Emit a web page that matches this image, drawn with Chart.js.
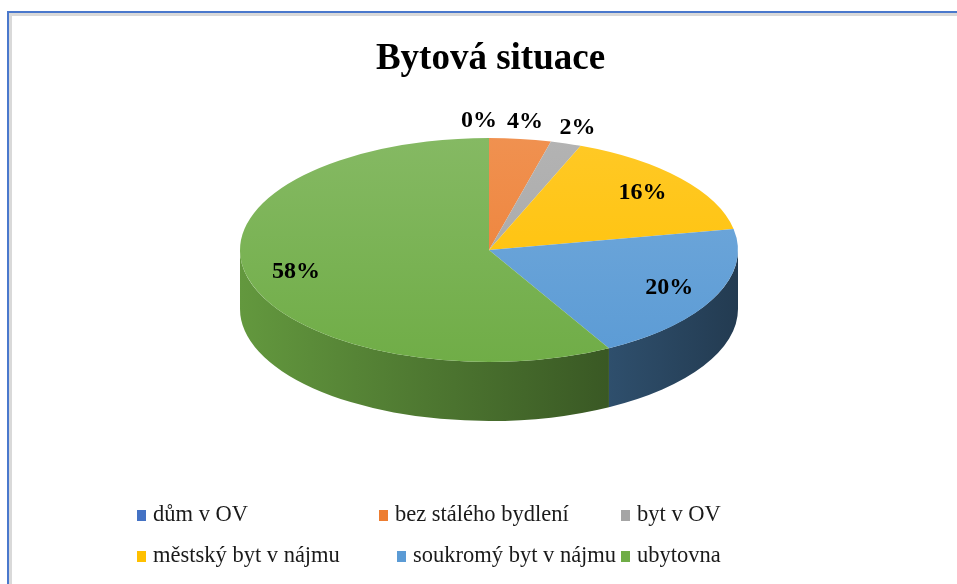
<!DOCTYPE html>
<html>
<head>
<meta charset="utf-8">
<title>Bytová situace</title>
<script src="https://cdn.jsdelivr.net/npm/chart.js@4.4.0/dist/chart.umd.min.js"></script>
<style>
  body { margin: 0; background: #fff; }
  #wrap { position: relative; width: 957px; height: 584px; overflow: hidden; }
  #frame { position: absolute; left: 7px; top: 11px; right: -20px; bottom: -20px;
           border-left: 2px solid #4a78cc; border-top: 2px solid #4a78cc; }
  #frame::after { content: ''; position: absolute; left: 0; top: 0; right: 0; bottom: 0;
                  border-left: 3px solid #d9d9d9; border-top: 3px solid #d9d9d9; }
  canvas { position: absolute; left: 0; top: 0; }
</style>
</head>
<body>
<div id="wrap">
  <div id="frame"></div>
  <canvas id="pieChart" width="957" height="584"></canvas>
</div>
<script>
var labels = ['dům v OV', 'bez stálého bydlení', 'byt v OV', 'městský byt v nájmu', 'soukromý byt v nájmu', 'ubytovna'];
var shares = [0, 4, 2, 16, 20, 58];
var colors = ['#4472C4', '#ED7D31', '#A5A5A5', '#FFC000', '#5B9BD5', '#70AD47'];

var serif = "'Liberation Serif', 'Times New Roman', serif";

// where the tilted disc sits on the page
var disc = { cx: 489, cy: 250, rx: 249, ry: 112, depth: 59 };

function rgb(hex) {
    var n = parseInt(hex.slice(1), 16);
    return [(n >> 16) & 255, (n >> 8) & 255, n & 255];
}
function shade(hex, f) {
    var c = rgb(hex).map(function (v) { return Math.round(v * f); });
    return 'rgb(' + c.join(',') + ')';
}
function tint(hex, f) {
    var c = rgb(hex).map(function (v) { return Math.round(v + (255 - v) * f); });
    return 'rgb(' + c.join(',') + ')';
}

var pie3d = {
    id: 'pie3d',
    beforeDatasetsDraw: function (chart) {
        var ctx = chart.ctx;
        var arcs = chart.getDatasetMeta(0).data;
        var o = disc;
        // side walls, only the front half of the disc is visible
        arcs.forEach(function (arc, i) {
            for (var k = -1; k <= 1; k++) {
                var a = Math.max(arc.startAngle, 2 * Math.PI * k);
                var b = Math.min(arc.endAngle, 2 * Math.PI * k + Math.PI);
                if (b <= a) continue;
                var grad = ctx.createLinearGradient(o.cx - o.rx, 0, o.cx + o.rx, 0);
                grad.addColorStop(0, shade(colors[i], 0.88));
                grad.addColorStop(1, shade(colors[i], 0.38));
                ctx.beginPath();
                ctx.ellipse(o.cx, o.cy, o.rx, o.ry, 0, a, b);
                ctx.ellipse(o.cx, o.cy + o.depth, o.rx, o.ry, 0, b, a, true);
                ctx.closePath();
                ctx.fillStyle = grad;
                ctx.fill();
            }
        });
        // squash the flat pie into the top face
        var p = arcs[0];
        ctx.save();
        ctx.translate(o.cx, o.cy);
        ctx.scale(o.rx / p.outerRadius, o.ry / p.outerRadius);
        ctx.translate(-p.x, -p.y);
    },
    afterDatasetsDraw: function (chart) {
        var ctx = chart.ctx;
        ctx.restore();
        var arcs = chart.getDatasetMeta(0).data;
        var o = disc;
        var pos = arcs.map(function (arc, i) {
            var mid = (arc.startAngle + arc.endAngle) / 2;
            var f = shares[i] < 5 ? 1.15 : 0.8;
            return { x: o.cx + o.rx * f * Math.cos(mid), y: o.cy + o.ry * f * Math.sin(mid), out: f > 1 };
        });
        // push crowded outside labels apart (to the left)
        for (var i = pos.length - 2; i >= 0; i--) {
            if (pos[i].out && pos[i + 1].out && pos[i + 1].x - pos[i].x < 46) pos[i].x = pos[i + 1].x - 46;
        }
        ctx.save();
        ctx.font = 'bold 24px ' + serif;
        ctx.fillStyle = '#000';
        ctx.textAlign = 'center';
        ctx.textBaseline = 'middle';
        pos.forEach(function (p, i) {
            ctx.fillText(shares[i] + '%', p.x, p.y);
        });
        ctx.restore();
    },
    afterDraw: function (chart) {
        var ctx = chart.ctx;
        var rows = [{ y: 515, xs: [137, 379, 621] }, { y: 556, xs: [137, 397, 621] }];
        ctx.save();
        ctx.font = '22.5px ' + serif;
        ctx.textAlign = 'left';
        ctx.textBaseline = 'middle';
        labels.forEach(function (t, i) {
            var row = rows[Math.floor(i / 3)];
            var x = row.xs[i % 3];
            ctx.fillStyle = colors[i];
            ctx.fillRect(x, row.y - 5, 9, 11);
            ctx.fillStyle = '#1a1a1a';
            ctx.fillText(t, x + 16, row.y);
        });
        ctx.restore();
    }
};

var pieChart = new Chart('pieChart', {
    type: 'pie',
    data: {
        labels: labels,
        datasets: [{
            data: shares,
            borderWidth: 0,
            backgroundColor: function (c) {
                var area = c.chart.chartArea;
                var base = colors[c.dataIndex];
                if (!area) return base;
                var cy = (area.top + area.bottom) / 2;
                var r = Math.min(area.width, area.height) / 2;
                var g = c.chart.ctx.createLinearGradient(0, cy - r, 0, cy + r);
                g.addColorStop(0, tint(base, 0.15));
                g.addColorStop(1, base);
                return g;
            }
        }]
    },
    options: {
        responsive: false,
        animation: false,
        layout: { padding: { left: 24, bottom: 110 } },
        plugins: {
            legend: { display: false },
            tooltip: { enabled: false },
            title: {
                display: true,
                text: 'Bytová situace',
                color: '#000',
                font: { family: serif, size: 37, weight: 'bold' },
                padding: { top: 37, bottom: 10 }
            }
        }
    },
    plugins: [pie3d]
});
</script>
</body>
</html>
